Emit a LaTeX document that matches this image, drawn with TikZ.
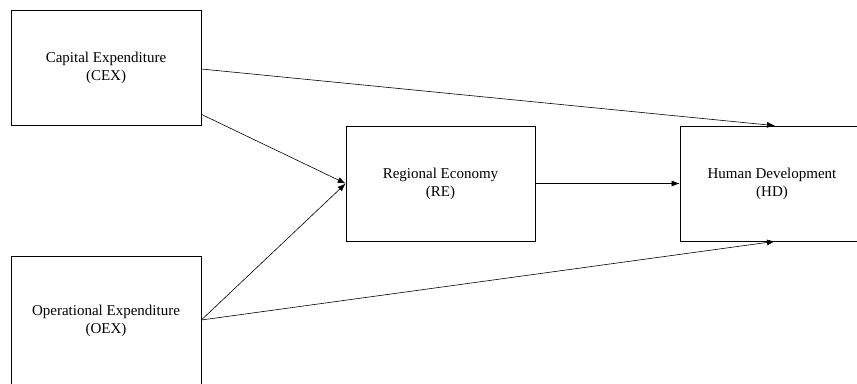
\documentclass[tikz,border=0pt]{standalone}
\usepackage{fontspec}
\setmainfont{Liberation Serif}
\usetikzlibrary{arrows.meta}
\begin{document}
\begin{tikzpicture}[x=1pt,y=-1pt,>={Latex[length=8pt,width=6pt]},
 box/.style={draw,line width=.7pt,align=center,inner sep=0pt,
  font=\fontsize{15}{18}\selectfont}]
 \useasboundingbox (0,0) rectangle (857,383);
 \clip (0,0) rectangle (857,383);
 % boxes
 \node[box,minimum width=190pt,minimum height=115pt] (cex) at (106,67.5) {Capital Expenditure\\(CEX)};
 \node[box,minimum width=190pt,minimum height=130pt] (oex) at (106,321) {Operational Expenditure\\(OEX)};
 \node[box,minimum width=189pt,minimum height=115pt] (re) at (440.5,183.5) {Regional Economy\\(RE)};
 \node[box,minimum width=184pt,minimum height=115pt] (hd) at (772,183.5) {Human Development\\(HD)};
 % arrows
 \begin{scope}[->,line width=.6pt]
 \draw ([yshift=-1.5pt]cex.east)--([xshift=3pt]hd.north);
 \draw ([yshift=11pt]cex.south east)--(re.west);
 \draw ([yshift=1pt]oex.east)--(re.west);
 \draw ([yshift=1pt]oex.east)--([xshift=3pt]hd.south);
 \draw (re)--(hd);
 \end{scope}
\end{tikzpicture}
\end{document}
